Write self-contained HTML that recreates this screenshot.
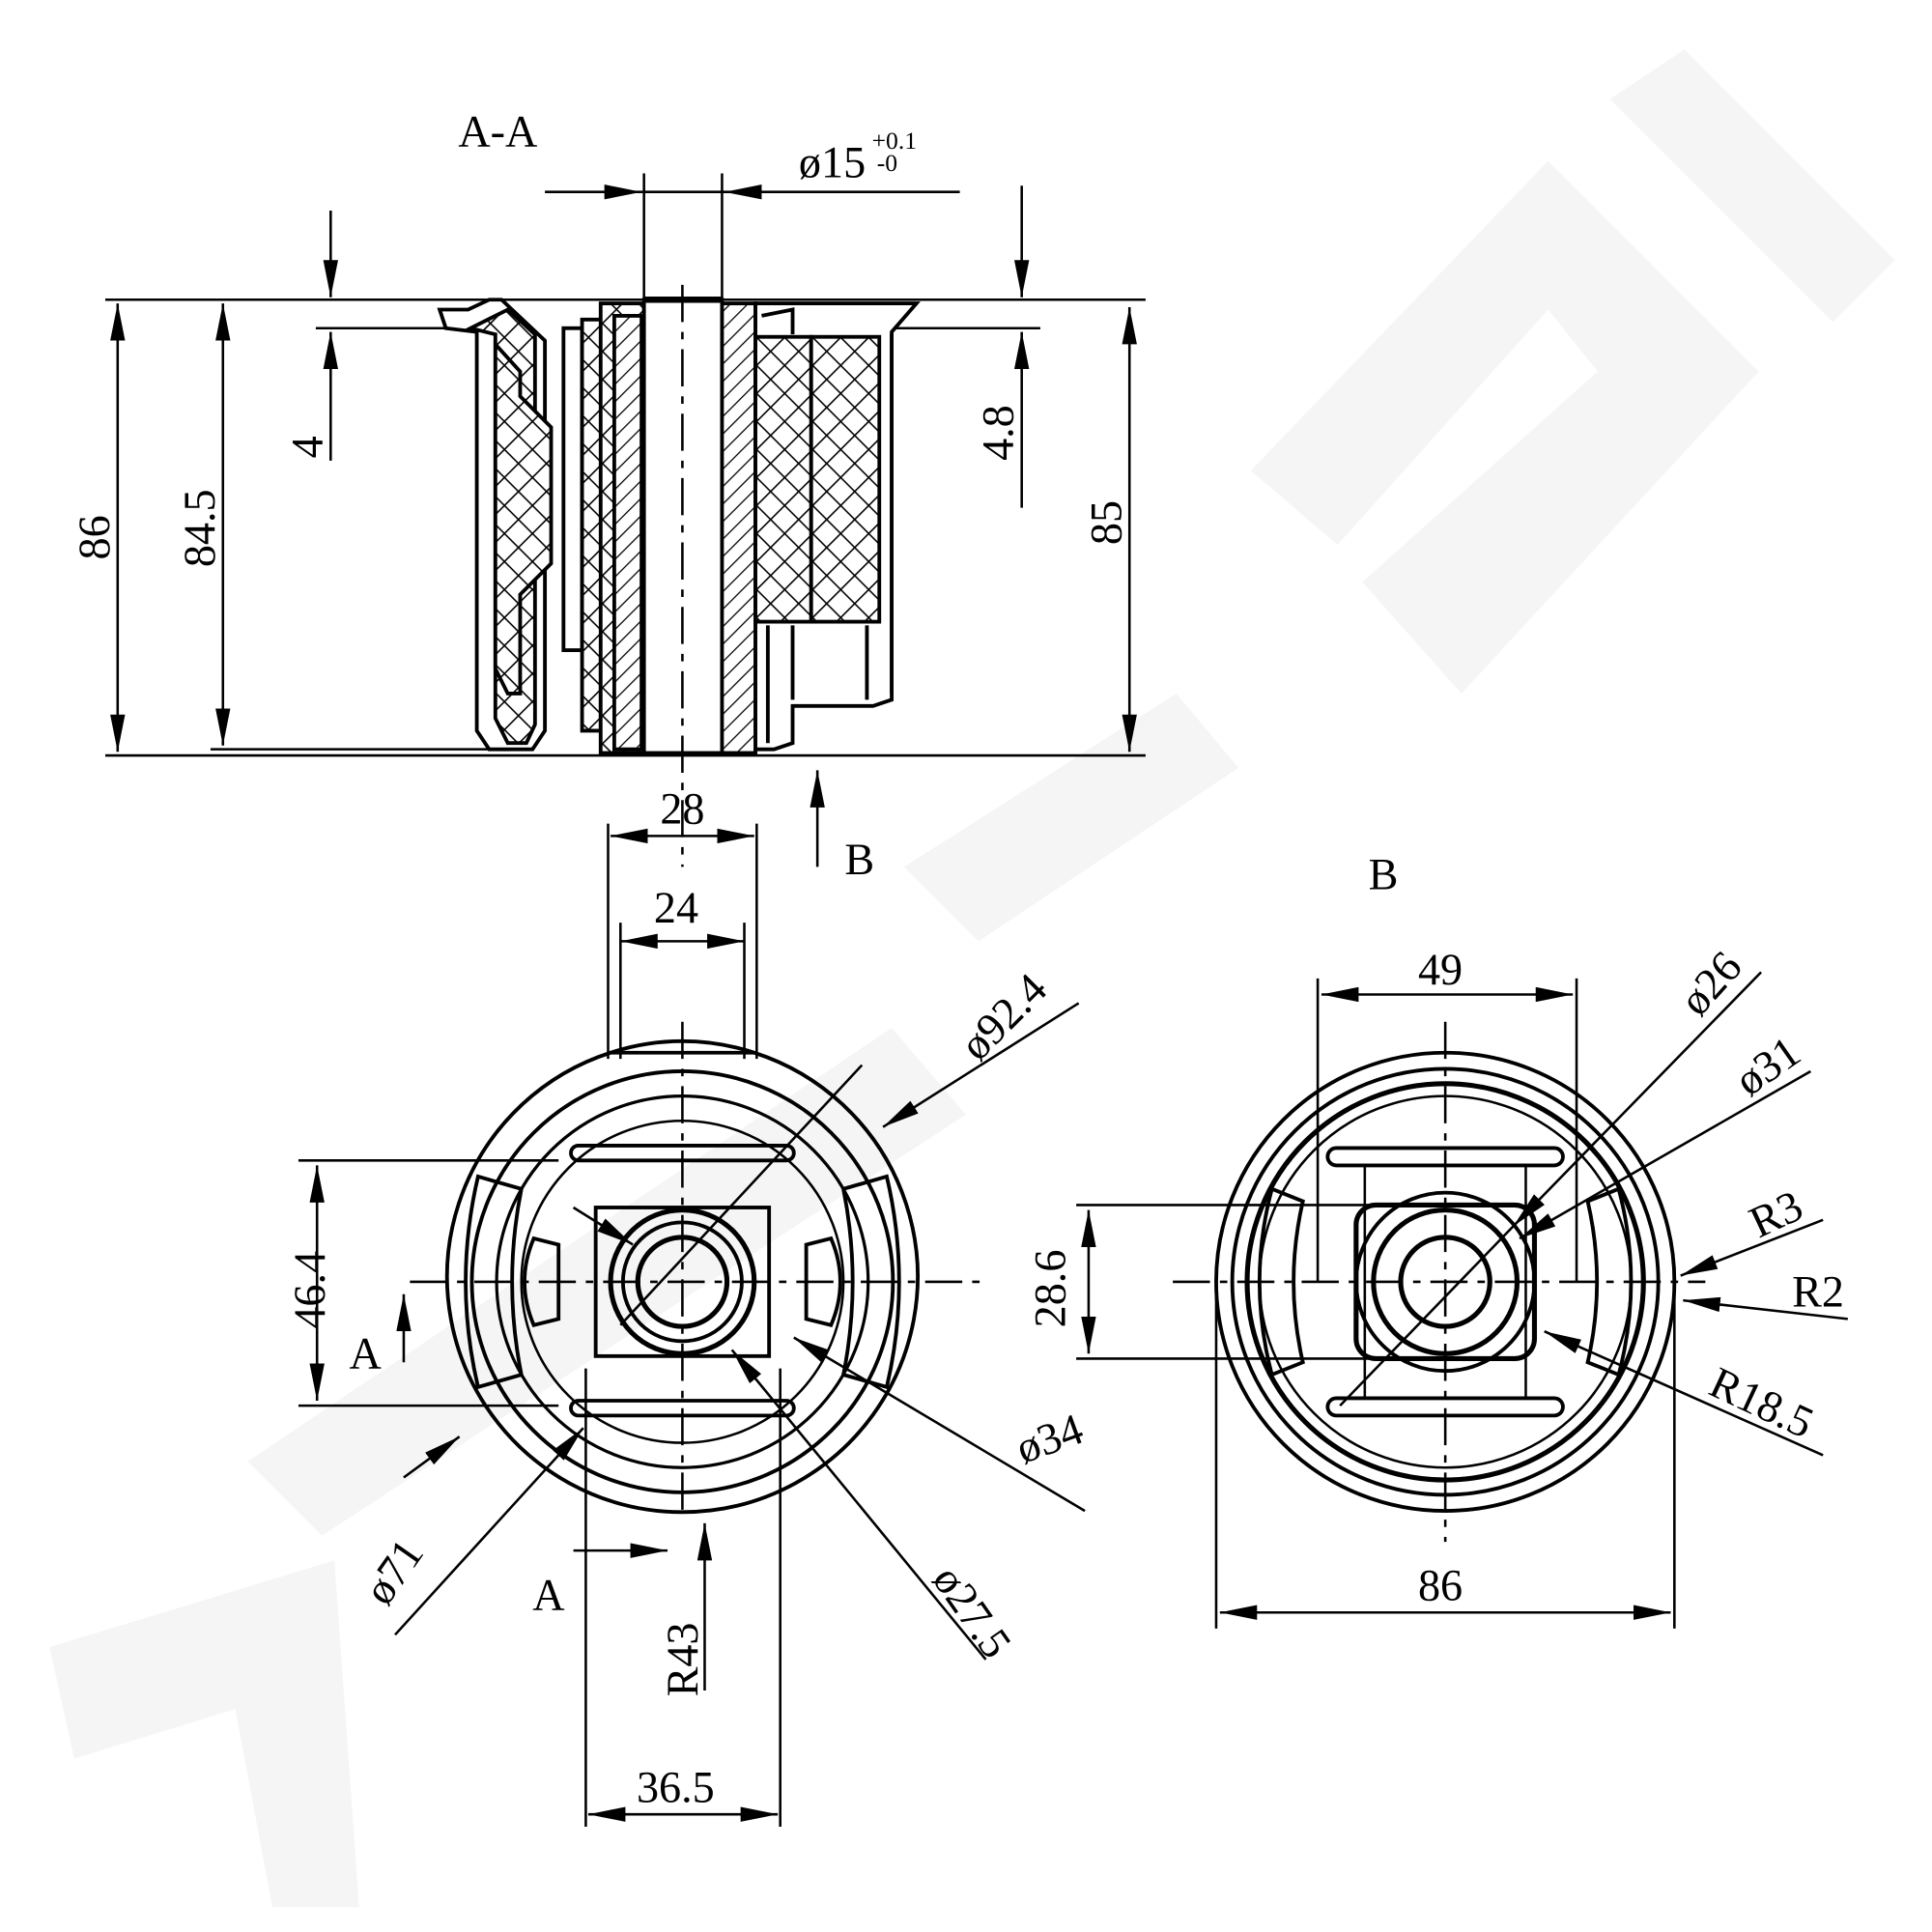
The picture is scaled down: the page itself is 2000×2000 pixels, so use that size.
<!DOCTYPE html>
<html><head><meta charset="utf-8"><style>html,body{margin:0;padding:0;background:#fff}svg{display:block}</style></head>
<body>
<svg width="2000" height="2000" viewBox="0 0 1560 1560" xmlns="http://www.w3.org/2000/svg" font-family="Liberation Serif, serif">
<defs>
<pattern id="x" width="16" height="16" patternUnits="userSpaceOnUse" patternTransform="rotate(45)"><rect width="16" height="16" fill="#fff"/><path d="M0 0H16M0 0V16" stroke="#000" stroke-width="2.5"/></pattern>
<pattern id="d" width="10" height="10" patternUnits="userSpaceOnUse" patternTransform="rotate(45)"><rect width="10" height="10" fill="#fff"/><path d="M0 0V10" stroke="#000" stroke-width="2"/></pattern>
<marker id="a" viewBox="0 0 10 10" refX="10" refY="5" markerWidth="30" markerHeight="12" markerUnits="userSpaceOnUse" orient="auto-start-reverse" preserveAspectRatio="none"><path d="M0 0L10 5L0 10z"/></marker>
</defs>
<rect width="1560" height="1560" fill="#fff"/>
<!-- watermark -->
<g fill="#f5f5f5">
<polygon points="40,1330 270,1260 290,1540 220,1540 190,1380 60,1420"/>
<polygon points="200,1180 720,830 780,900 260,1240"/>
<polygon points="730,700 950,560 1000,620 790,760"/>
<polygon points="1010,380 1250,130 1420,300 1180,560 1100,470 1290,300 1250,250 1080,440"/>
<polygon points="1300,80 1360,40 1530,210 1480,260"/>
</g>
<g stroke="#000" stroke-width="2" fill="none">
<line x1="85" y1="242" x2="925" y2="242"/>
<line x1="85" y1="610" x2="925" y2="610"/>
<line x1="170" y1="605" x2="400" y2="605"/>
<line x1="255" y1="265" x2="360" y2="265"/>
<line x1="720" y1="265" x2="840" y2="265"/>
<line x1="95" y1="245" x2="95" y2="607" marker-start="url(#a)" marker-end="url(#a)"/>
<line x1="180" y1="245" x2="180" y2="602" marker-start="url(#a)" marker-end="url(#a)"/>
<line x1="912" y1="248" x2="912" y2="607" marker-start="url(#a)" marker-end="url(#a)"/>
<line x1="267" y1="170" x2="267" y2="240" marker-end="url(#a)"/>
<line x1="267" y1="372" x2="267" y2="268" marker-end="url(#a)"/>
<line x1="825" y1="150" x2="825" y2="240" marker-end="url(#a)"/>
<line x1="825" y1="410" x2="825" y2="268" marker-end="url(#a)"/>
<line x1="440" y1="155" x2="518" y2="155" marker-end="url(#a)"/>
<line x1="775" y1="155" x2="585" y2="155" marker-end="url(#a)"/>
<line x1="518" y1="155" x2="585" y2="155"/>
<line x1="520" y1="140" x2="520" y2="245"/>
<line x1="583" y1="140" x2="583" y2="245"/>
<line x1="660" y1="700" x2="660" y2="622" marker-end="url(#a)"/>
<g stroke-width="3">
<path d="M355 250H378L395 242H405L440 275V590L430 605H395L385 590V268L360 265Z" fill="#fff"/>
<path d="M380 265L400 270V580L410 600H425L432 585V270L410 250Z" fill="url(#x)"/>
<path d="M400 278L420 300V320L445 345V455L420 480V560H410L400 540Z" fill="url(#x)"/>
<rect x="455" y="265" width="15" height="260"/>
<path d="M470 258H490V530H485V590H470Z" fill="url(#x)"/>
<rect x="485" y="245" width="35" height="363" fill="url(#x)"/>
<rect x="496" y="255" width="22" height="350" fill="url(#d)"/>
<rect x="520" y="242" width="63" height="366" fill="#fff"/>
<rect x="583" y="245" width="27" height="363" fill="url(#d)"/>
<path d="M610 245H740L720 268V565L705 570H640V600L625 605H610Z" fill="#fff"/>
<rect x="610" y="272" width="45" height="230" fill="url(#x)"/>
<rect x="655" y="272" width="55" height="230" fill="url(#x)"/>
<path d="M615 255L640 250V270" />
<line x1="640" y1="505" x2="640" y2="565"/>
<line x1="620" y1="505" x2="620" y2="600"/>
<line x1="700" y1="505" x2="700" y2="565"/>
<line x1="720" y1="270" x2="720" y2="560"/>
</g>
<line x1="551" y1="230" x2="551" y2="700" stroke-dasharray="30 8 6 8"/>
<line x1="520" y1="242" x2="583" y2="242" stroke-width="5"/>
<g transform="translate(551,1035)">
<line x1="-60" y1="-370" x2="-60" y2="-180"/>
<line x1="60" y1="-370" x2="60" y2="-180"/>
<line x1="-78" y1="70" x2="-78" y2="440"/>
<line x1="79" y1="70" x2="79" y2="440"/>
<line x1="-58" y1="-360" x2="58" y2="-360" marker-start="url(#a)" marker-end="url(#a)"/>
<line x1="-50" y1="-275" x2="50" y2="-275" marker-start="url(#a)" marker-end="url(#a)"/>
<line x1="-50" y1="-290" x2="-50" y2="-180"/>
<line x1="50" y1="-290" x2="50" y2="-180"/>
<line x1="-76" y1="430" x2="77" y2="430" marker-start="url(#a)" marker-end="url(#a)"/>
<path stroke-width="3" d="M-58 -185A190 190 0 1 0 58 -185Z"/>
<path stroke-width="3" d="M-58 -185A185 185 0 0 1 58 -185"/>
<circle r="170" stroke-width="3"/>
<circle r="150" stroke-width="2.5"/>
<circle r="130" stroke-width="2"/>
<circle r="58" stroke-width="4"/>
<circle r="48" stroke-width="3"/>
<circle r="36" stroke-width="4"/>
<rect x="-70" y="-60" width="140" height="120" stroke-width="3"/>
<rect x="-90" y="-110" width="180" height="12" rx="6" stroke-width="3"/>
<rect x="-90" y="96" width="180" height="12" rx="6" stroke-width="3"/>
<path stroke-width="3" d="M-165 -85Q-185 0 -165 85L-130 75Q-145 0 -130 -75Z"/>
<path stroke-width="3" d="M165 -85Q185 0 165 85L130 75Q145 0 130 -75Z"/>
<path stroke-width="3" d="M-120 -35Q-135 0 -120 35L-100 30V-30Z"/>
<path stroke-width="3" d="M120 -35Q135 0 120 35L100 30V-30Z"/>
<line x1="-220" y1="0" x2="240" y2="0" stroke-dasharray="30 8 6 8"/>
<line x1="0" y1="-210" x2="0" y2="190" stroke-dasharray="30 8 6 8"/>
<line x1="-310" y1="-98" x2="-100" y2="-98"/>
<line x1="-310" y1="100" x2="-100" y2="100"/>
<line x1="-295" y1="-94" x2="-295" y2="96" marker-start="url(#a)" marker-end="url(#a)"/>
<line x1="320" y1="-225" x2="162" y2="-125" marker-end="url(#a)"/>
<line x1="145" y1="-175" x2="-50" y2="35"/>
<line x1="-88" y1="-60" x2="-40" y2="-30" marker-end="url(#a)"/>
<line x1="-225" y1="158" x2="-180" y2="125" marker-end="url(#a)"/>
<line x1="-232" y1="285" x2="-80" y2="118" marker-end="url(#a)"/>
<line x1="325" y1="185" x2="90" y2="45" marker-end="url(#a)"/>
<line x1="245" y1="305" x2="40" y2="55" marker-end="url(#a)"/>
<line x1="18" y1="330" x2="18" y2="195" marker-end="url(#a)"/>
<line x1="-225" y1="65" x2="-225" y2="10" marker-end="url(#a)"/>
<line x1="-88" y1="217" x2="-12" y2="217" marker-end="url(#a)"/>
</g>
<g transform="translate(1167,1035)">
<circle r="185" stroke-width="3"/>
<circle r="172" stroke-width="3"/>
<circle r="160" stroke-width="4"/>
<circle r="150" stroke-width="2"/>
<rect x="-72" y="-62" width="144" height="124" rx="16" stroke-width="4"/>
<circle r="72" stroke-width="3"/>
<circle r="58" stroke-width="4"/>
<circle r="36" stroke-width="4"/>
<rect x="-95" y="-108" width="190" height="14" rx="7" stroke-width="3"/>
<rect x="-95" y="94" width="190" height="14" rx="7" stroke-width="3"/>
<line x1="-65" y1="-95" x2="-65" y2="95"/><line x1="65" y1="-95" x2="65" y2="95"/>
<path stroke-width="3" d="M-140 -75Q-160 0 -140 75L-115 65Q-130 0 -115 -65Z"/>
<path stroke-width="3" d="M140 -75Q160 0 140 75L115 65Q130 0 115 -65Z"/>
<line x1="-220" y1="0" x2="210" y2="0" stroke-dasharray="30 8 6 8"/>
<line x1="0" y1="-210" x2="0" y2="210" stroke-dasharray="30 8 6 8"/>
<line x1="-103" y1="-245" x2="-103" y2="0"/>
<line x1="106" y1="-245" x2="106" y2="0"/>
<line x1="-100" y1="-232" x2="103" y2="-232" marker-start="url(#a)" marker-end="url(#a)"/>
<line x1="-298" y1="-62" x2="-60" y2="-62"/>
<line x1="-298" y1="62" x2="-60" y2="62"/>
<line x1="-288" y1="-58" x2="-288" y2="58" marker-start="url(#a)" marker-end="url(#a)"/>
<line x1="-185" y1="0" x2="-185" y2="280"/>
<line x1="185" y1="0" x2="185" y2="280"/>
<line x1="-182" y1="267" x2="182" y2="267" marker-start="url(#a)" marker-end="url(#a)"/>
<line x1="255" y1="-250" x2="55" y2="-45" marker-end="url(#a)"/>
<line x1="55" y1="-45" x2="-85" y2="100"/>
<line x1="295" y1="-170" x2="60" y2="-35" marker-end="url(#a)"/>
<line x1="305" y1="-50" x2="190" y2="-5" marker-end="url(#a)"/>
<line x1="325" y1="30" x2="192" y2="15" marker-end="url(#a)"/>
<line x1="305" y1="140" x2="80" y2="40" marker-end="url(#a)"/>
</g>
</g>
<g font-size="36" fill="#000">
<text x="370" y="118">A-A</text>
<text x="645" y="143">ø15</text>
<text x="704" y="120" font-size="20">+0.1</text>
<text x="708" y="138" font-size="20">-0</text>
<text transform="translate(88,452) rotate(-90)">86</text>
<text transform="translate(173,458) rotate(-90)">84.5</text>
<text transform="translate(905,440) rotate(-90)">85</text>
<text transform="translate(260,370) rotate(-90)">4</text>
<text transform="translate(818,372) rotate(-90)">4.8</text>
<text x="533" y="665">28</text>
<text x="528" y="745">24</text>
<text x="682" y="706">B</text>
<text x="1105" y="718">B</text>
<text x="282" y="1105">A</text>
<text x="430" y="1300">A</text>
<text x="514" y="1455">36.5</text>
<text transform="translate(262,1073) rotate(-90)">46.4</text>
<text transform="translate(563,1370) rotate(-90)">R43</text>
<text transform="translate(790,858) rotate(-45)">ø92.4</text>
<text transform="translate(826,1182) rotate(-20)">ø34</text>
<text transform="translate(312,1298) rotate(-55)">ø71</text>
<text transform="translate(752,1275) rotate(55)">ø27.5</text>
<text x="1145" y="795">49</text>
<text x="1145" y="1292">86</text>
<text transform="translate(860,1072) rotate(-90)">28.6</text>
<text transform="translate(1372,822) rotate(-48)">ø26</text>
<text transform="translate(1412,886) rotate(-35)">ø31</text>
<text transform="translate(1420,1000) rotate(-25)">R3</text>
<text x="1447" y="1055">R2</text>
<text transform="translate(1378,1125) rotate(25)">R18.5</text>
</g>
</svg>
</body></html>
